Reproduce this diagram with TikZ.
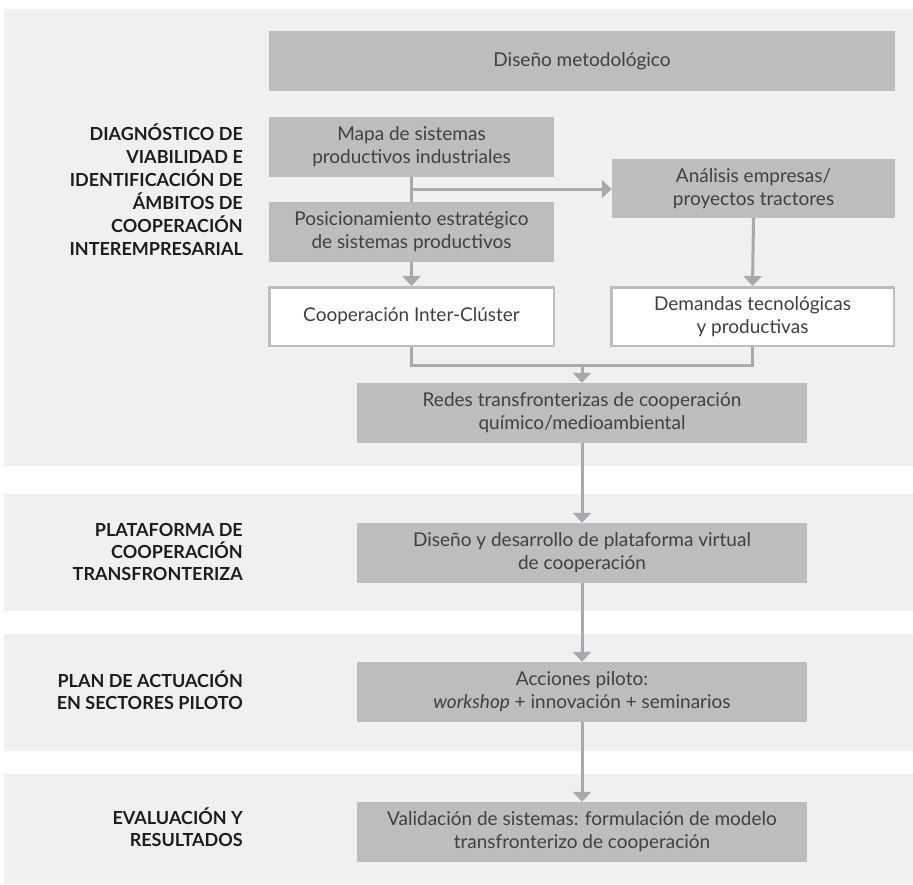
\documentclass[tikz,border=0pt]{standalone}
\usepackage{fontspec}
\setmainfont{Lato}
\usetikzlibrary{arrows.meta,calc}
\definecolor{panelbg}{HTML}{F0F0F0}
\definecolor{boxfill}{HTML}{BCBDBF}
\definecolor{linegray}{HTML}{A7A9AC}
\definecolor{boxtext}{HTML}{404040}
\definecolor{labtext}{HTML}{1D1D1B}
\begin{document}
\begin{tikzpicture}[x=1pt,y=-1pt,
  panel/.style={fill=panelbg,draw=none},
  gbox/.style={fill=boxfill,draw=none,text=boxtext,align=center,inner sep=0pt,
    font=\fontsize{19}{23}\selectfont},
  wbox/.style={fill=white,draw=boxfill,line width=2.5pt,text=boxtext,align=center,inner sep=0pt,
    font=\fontsize{19}{23}\selectfont},
  lab/.style={anchor=east,align=right,text=labtext,inner sep=0pt,
    font=\fontsize{18}{23}\selectfont\bfseries},
  conn/.style={draw=linegray,line width=3pt},
  arr/.style={conn,-{Triangle[length=10pt,width=18pt]}}
]
\useasboundingbox (0,0) rectangle (913,884);
% panels
\path[panel] (4,9) rectangle (913,466);
\path[panel] (4,494) rectangle (913,611);
\path[panel] (4,634) rectangle (913,751);
\path[panel] (4,774) rectangle (913,884);

% boxes
\node[gbox,minimum width=626pt,minimum height=60pt] (dis) at (582,61) {Diseño metodológico};
\node[gbox,minimum width=285pt,minimum height=60pt] (mapa) at (411.5,147) {Mapa de sistemas\\productivos industriales};
\node[gbox,minimum width=285pt,minimum height=60pt] (pos) at (411.5,232) {Posicionamiento estratégico\\de sistemas productivos};
\node[gbox,minimum width=283pt,minimum height=59pt] (ana) at (753.5,188.5) {Análisis empresas/\\proyectos tractores};
\node[wbox,minimum width=284.5pt,minimum height=58.5pt] (coop) at (411.5,316.5) {Cooperación Inter-Clúster};
\node[wbox,minimum width=282.5pt,minimum height=58.5pt] (dem) at (752.5,316.5) {Demandas tecnológicas\\y productivas};
\node[gbox,minimum width=450pt,minimum height=60pt] (redes) at (582,413) {Redes transfronterizas de cooperación\\químico/medioambiental};
\node[gbox,minimum width=450pt,minimum height=60pt] (plat) at (582,553) {Diseño y desarrollo de plataforma virtual\\de cooperación};
\node[gbox,minimum width=450pt,minimum height=60pt] (acc) at (582,692) {Acciones piloto:\\\textit{workshop} + innovación + seminarios};
\node[gbox,minimum width=450pt,minimum height=60pt] (val) at (582,832) {Validación de sistemas: formulación de modelo\\transfronterizo de cooperación};

% labels
\node[lab] (l1) at (243,190) {DIAGNÓSTICO DE\\VIABILIDAD E\\IDENTIFICACIÓN DE\\ÁMBITOS DE\\COOPERACIÓN\\INTEREMPRESARIAL};
\node[lab,font=\fontsize{18}{22}\selectfont\bfseries] (l2) at (243,552) {PLATAFORMA DE\\COOPERACIÓN\\TRANSFRONTERIZA};
\node[lab,font=\fontsize{18}{22}\selectfont\bfseries] (l3) at (243,690) {PLAN DE ACTUACIÓN\\EN SECTORES PILOTO};
\node[lab,font=\fontsize{18}{22}\selectfont\bfseries] (l4) at (243,827) {EVALUACIÓN Y\\RESULTADOS};

% connectors
\draw[conn] (mapa.south) -- (pos.north);
\coordinate (br) at (411.5,189);
\draw[arr] (br) -- (br -| ana.west);
\draw[arr] (pos.south) -- (coop.north);
\draw[arr] (ana.south) -- (dem.north);
\coordinate (j) at (582,365);
\draw[conn] (coop.south) -- (coop.south |- j) -- (dem.south |- j) -- (dem.south);
\draw[arr] (j) -- (redes.north);
\draw[arr] (redes.south) -- (plat.north);
\draw[arr] (plat.south) -- (acc.north);
\draw[arr] (acc.south) -- (val.north);
\end{tikzpicture}
\end{document}
